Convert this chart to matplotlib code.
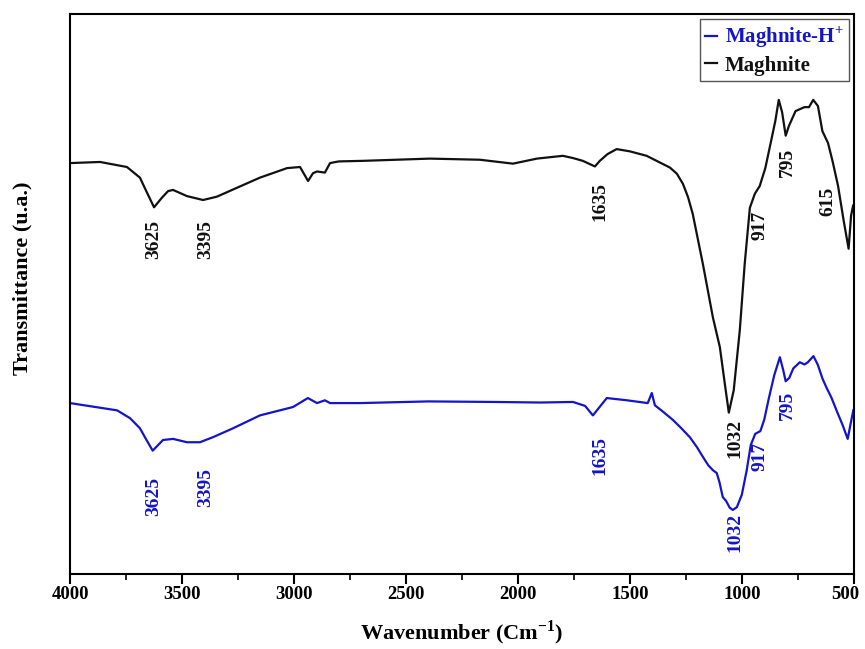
import numpy as np
import matplotlib.pyplot as plt
import matplotlib.transforms as mtransforms
from matplotlib.ticker import MultipleLocator

plt.rcParams['font.family'] = ['Liberation Serif', 'DejaVu Serif']
plt.rcParams['font.weight'] = 'bold'
plt.rcParams['mathtext.fontset'] = 'custom'
plt.rcParams['mathtext.rm'] = 'Liberation Serif:bold'
plt.rcParams['mathtext.bf'] = 'Liberation Serif:bold'

# FTIR spectra (wavenumber in cm-1, transmittance in arbitrary units)
wn_raw = [4000, 3866, 3746, 3688, 3655, 3625, 3590, 3562, 3540, 3478, 3406,
          3344, 3254, 3152, 3031, 2973, 2937, 2915, 2897, 2862, 2839, 2800,
          2692, 2393, 2170, 2022, 1915, 1799, 1754, 1710, 1656, 1634, 1600,
          1559, 1500, 1425, 1321, 1290, 1263, 1240, 1219, 1174, 1129, 1098,
          1076, 1058, 1036, 1009, 987, 964, 942, 920, 895, 871, 850, 835,
          820, 804, 790, 760, 720, 700, 681, 660, 640, 615, 595, 570, 545,
          523, 512, 503]
t_raw = [73.4, 73.6, 72.7, 70.8, 68.0, 65.5, 67.2, 68.4, 68.6, 67.5, 66.8,
         67.4, 69.0, 70.8, 72.5, 72.7, 70.2, 71.6, 71.9, 71.7, 73.4, 73.7,
         73.8, 74.2, 74.0, 73.3, 74.2, 74.7, 74.3, 73.8, 72.8, 73.8, 75.0,
         75.9, 75.5, 74.7, 72.6, 71.5, 69.7, 67.3, 64.3, 55.4, 45.8, 40.5,
         34.0, 28.8, 32.8, 43.5, 55.4, 65.4, 67.9, 69.3, 72.5, 77.0, 81.0,
         84.7, 82.5, 78.3, 80.0, 82.7, 83.4, 83.4, 84.7, 83.6, 79.1, 77.0,
         73.8, 69.3, 63.1, 58.1, 64.0, 65.8]

wn_acid = [4000, 3790, 3732, 3688, 3660, 3631, 3585, 3540, 3478, 3420, 3362,
           3272, 3152, 3004, 2938, 2897, 2862, 2839, 2705, 2400, 2100, 1900,
           1754, 1700, 1665, 1603, 1513, 1420, 1402, 1388, 1350, 1308, 1270,
           1232, 1200, 1174, 1150, 1129, 1112, 1100, 1085, 1070, 1054, 1040,
           1022, 1000, 978, 960, 940, 917, 900, 879, 855, 830, 815, 804, 788,
           770, 741, 720, 705, 680, 660, 640, 621, 600, 574, 550, 527, 515,
           502]
t_acid = [30.5, 29.2, 27.8, 26.0, 24.0, 22.0, 23.9, 24.1, 23.5, 23.5, 24.4,
          26.0, 28.3, 29.8, 31.4, 30.5, 31.0, 30.5, 30.5, 30.8, 30.7, 30.6,
          30.7, 30.0, 28.3, 31.4, 31.0, 30.5, 32.3, 30.1, 28.9, 27.5, 26.0,
          24.4, 22.6, 20.9, 19.4, 18.5, 18.0, 16.4, 13.7, 13.0, 11.8, 11.4,
          11.9, 14.1, 18.5, 23.0, 25.0, 25.5, 27.5, 31.4, 35.5, 38.7, 36.4,
          34.4, 35.0, 36.7, 37.8, 37.4, 37.8, 38.9, 37.3, 34.9, 33.2, 31.5,
          28.9, 26.6, 24.1, 26.6, 29.2]

# band assignments: (wavenumber, y position of label)
bands_raw = [(3625, 59.8), (3395, 59.8), (1635, 66.6), (1032, 24.2),
             (917, 62.3), (795, 73.6), (615, 66.6)]
bands_acid = [(3625, 13.8), (3395, 15.5), (1635, 21.2), (1032, 7.4),
              (917, 21.0), (795, 30.1)]

black = '#111111'
blue = '#1414c8'

fig = plt.figure(figsize=(8.65, 6.49), dpi=100)
ax = fig.add_axes([0.081, 0.116, 0.906, 0.862])

ax.plot(wn_acid, t_acid, color=blue, lw=1.6, label='Maghnite-H$^{+}$')
ax.plot(wn_raw, t_raw, color=black, lw=1.6, label='Maghnite')

for w, y in bands_raw:
    ax.text(w, y, str(w), rotation=90, ha='center', va='center',
            fontsize=14, fontweight='bold', color=black)
for w, y in bands_acid:
    ax.text(w, y, str(w), rotation=90, ha='center', va='center',
            fontsize=14, fontweight='bold', color=blue)

ax.set_xlim(4000, 500)
ax.set_ylim(0, 100)
ax.xaxis.set_major_locator(MultipleLocator(500))
ax.xaxis.set_minor_locator(MultipleLocator(250))
ax.tick_params(axis='x', which='major', direction='out', length=7, width=1.5,
               labelsize=13.5, pad=2)
ax.tick_params(axis='x', which='minor', direction='out', length=4, width=1.2)
ax.set_yticks([])
for s in ax.spines.values():
    s.set_linewidth(1.5)

fig.canvas.draw()
# nudge the 500 label so it stays inside the figure
shift = mtransforms.ScaledTranslation(-6 / 72, 0, fig.dpi_scale_trans)
for tick in ax.xaxis.get_major_ticks():
    tick.label1.set_fontweight('bold')
    if tick.label1.get_text() == '500':
        tick.label1.set_transform(tick.label1.get_transform() + shift)

ax.set_xlabel('Wavenumber (Cm$^{\\mathregular{-1}}$)', fontsize=16,
              fontweight='bold', labelpad=11)
ax.set_ylabel('Transmittance (u.a.)', fontsize=16, fontweight='bold')
ax.yaxis.set_label_coords(-0.048, 0.528)

leg = ax.legend(loc='upper right', fontsize=15, handlelength=0.6,
                handletextpad=0.35, borderpad=0.25, labelspacing=0.25,
                fancybox=False, framealpha=1, borderaxespad=0.25)
leg.get_frame().set_edgecolor('#555555')
leg.get_frame().set_linewidth(1.0)
for txt, c in zip(leg.get_texts(), [blue, black]):
    txt.set_color(c)
    txt.set_fontweight('bold')

fig.savefig('out.png', dpi=100)
